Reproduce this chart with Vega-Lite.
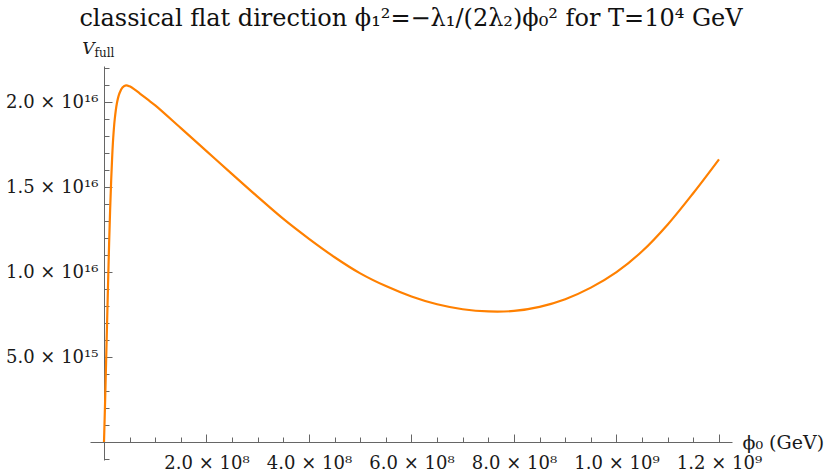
{
  "$schema": "https://vega.github.io/schema/vega-lite/v6.json",
  "width": 642,
  "height": 394,
  "autosize": {"type": "none"},
  "padding": {"left": 90, "top": 66, "right": 98, "bottom": 16},
  "background": "white",
  "title": {
    "text": "classical flat direction ϕ₁²=−λ₁/(2λ₂)ϕ₀² for T=10⁴ GeV",
    "font": "DejaVu Serif",
    "fontSize": 24,
    "fontWeight": "normal",
    "color": "#111",
    "anchor": "middle",
    "baseline": "alphabetic",
    "offset": -11
  },
  "config": {
    "view": {"stroke": null},
    "axis": {
      "grid": false,
      "domainColor": "#666",
      "tickColor": "#666",
      "labelFont": "DejaVu Serif",
      "labelFontSize": 18,
      "labelColor": "#1a1a1a",
      "titleFont": "DejaVu Serif",
      "titleFontWeight": "normal",
      "titleColor": "#1a1a1a"
    }
  },
  "data": {
    "values": [
      {"phi": 0, "V": 0},
      {"phi": 2000000, "V": 2.2e15},
      {"phi": 4000000, "V": 4.6e15},
      {"phi": 6000000, "V": 7.0e15},
      {"phi": 8000000, "V": 9.4e15},
      {"phi": 10000000, "V": 1.17e16},
      {"phi": 12000000, "V": 1.37e16},
      {"phi": 14000000, "V": 1.54e16},
      {"phi": 16000000, "V": 1.68e16},
      {"phi": 18000000, "V": 1.79e16},
      {"phi": 21000000, "V": 1.9e16},
      {"phi": 25000000, "V": 1.99e16},
      {"phi": 30000000, "V": 2.05e16},
      {"phi": 36000000, "V": 2.085e16},
      {"phi": 43000000, "V": 2.098e16},
      {"phi": 50000000, "V": 2.092e16},
      {"phi": 60000000, "V": 2.073e16},
      {"phi": 70000000, "V": 2.05e16},
      {"phi": 85000000, "V": 2.015e16},
      {"phi": 100000000, "V": 1.98e16},
      {"phi": 150000000, "V": 1.846e16},
      {"phi": 200000000, "V": 1.711e16},
      {"phi": 250000000, "V": 1.576e16},
      {"phi": 300000000, "V": 1.442e16},
      {"phi": 350000000, "V": 1.312e16},
      {"phi": 400000000, "V": 1.195e16},
      {"phi": 450000000, "V": 1.087e16},
      {"phi": 500000000, "V": 9.92e15},
      {"phi": 550000000, "V": 9.17e15},
      {"phi": 600000000, "V": 8.56e15},
      {"phi": 650000000, "V": 8.1e15},
      {"phi": 700000000, "V": 7.81e15},
      {"phi": 750000000, "V": 7.68e15},
      {"phi": 800000000, "V": 7.71e15},
      {"phi": 850000000, "V": 7.95e15},
      {"phi": 900000000, "V": 8.4e15},
      {"phi": 950000000, "V": 9.08e15},
      {"phi": 1000000000, "V": 9.99e15},
      {"phi": 1050000000, "V": 1.122e16},
      {"phi": 1100000000, "V": 1.28e16},
      {"phi": 1150000000, "V": 1.465e16},
      {"phi": 1200000000, "V": 1.663e16}
    ]
  },
  "layer": [
    {
      "mark": {"type": "line", "color": "#FF8000", "strokeWidth": 2.2, "interpolate": "catmull-rom"},
      "encoding": {
        "x": {
          "field": "phi",
          "type": "quantitative",
          "scale": {"domain": [-27317000, 1225370000], "nice": false, "zero": false},
          "axis": {
            "orient": "bottom",
            "offset": -18,
            "values": [200000000, 400000000, 600000000, 800000000, 1000000000, 1200000000],
            "tickSize": -8,
            "labelPadding": 20,
            "labelExpr": "datum.value >= 1e9 ? format(datum.value / 1e9, '.1f') + ' × 10⁹' : format(datum.value / 1e8, '.1f') + ' × 10⁸'",
            "title": "ϕ₀ (GeV)",
            "titleFontSize": 19,
            "titleX": 652,
            "titleY": 0,
            "titleAlign": "left",
            "titleBaseline": "middle"
          }
        },
        "y": {
          "field": "V",
          "type": "quantitative",
          "scale": {"domain": [-1.0588e15, 2.2118e16], "nice": false, "zero": false},
          "axis": {
            "orient": "left",
            "offset": -14,
            "values": [5e15, 1e16, 1.5e16, 2e16],
            "tickSize": -8,
            "labelPadding": 14,
            "labelExpr": "datum.value >= 1e16 ? format(datum.value / 1e16, '.1f') + ' × 10¹⁶' : format(datum.value / 1e15, '.1f') + ' × 10¹⁵'",
            "title": "V",
            "titleFontStyle": "italic",
            "titleFontSize": 17,
            "titleAngle": 0,
            "titleAlign": "center",
            "titleBaseline": "alphabetic",
            "titleX": -16,
            "titleY": -13
          }
        }
      }
    },
    {
      "mark": {"type": "line", "opacity": 0},
      "encoding": {
        "x": {
          "field": "phi",
          "type": "quantitative",
          "axis": {
            "orient": "bottom",
            "offset": -18,
            "values": [50000000, 100000000, 150000000, 250000000, 300000000, 350000000, 450000000, 500000000, 550000000, 650000000, 700000000, 750000000, 850000000, 900000000, 950000000, 1050000000, 1100000000, 1150000000],
            "tickSize": -5,
            "labels": false,
            "domain": false,
            "title": null
          }
        },
        "y": {
          "field": "V",
          "type": "quantitative",
          "axis": {
            "orient": "left",
            "offset": -14,
            "values": [-1e15, 1e15, 2e15, 3e15, 4e15, 6e15, 7e15, 8e15, 9e15, 1.1e16, 1.2e16, 1.3e16, 1.4e16, 1.6e16, 1.7e16, 1.8e16, 1.9e16, 2.1e16, 2.2e16],
            "tickSize": -5,
            "labels": false,
            "domain": false,
            "title": "full",
            "titleFontSize": 12,
            "titleAngle": 0,
            "titleAlign": "left",
            "titleBaseline": "alphabetic",
            "titleX": -10,
            "titleY": -10
          }
        }
      }
    }
  ],
  "resolve": {"axis": {"x": "independent", "y": "independent"}}
}
